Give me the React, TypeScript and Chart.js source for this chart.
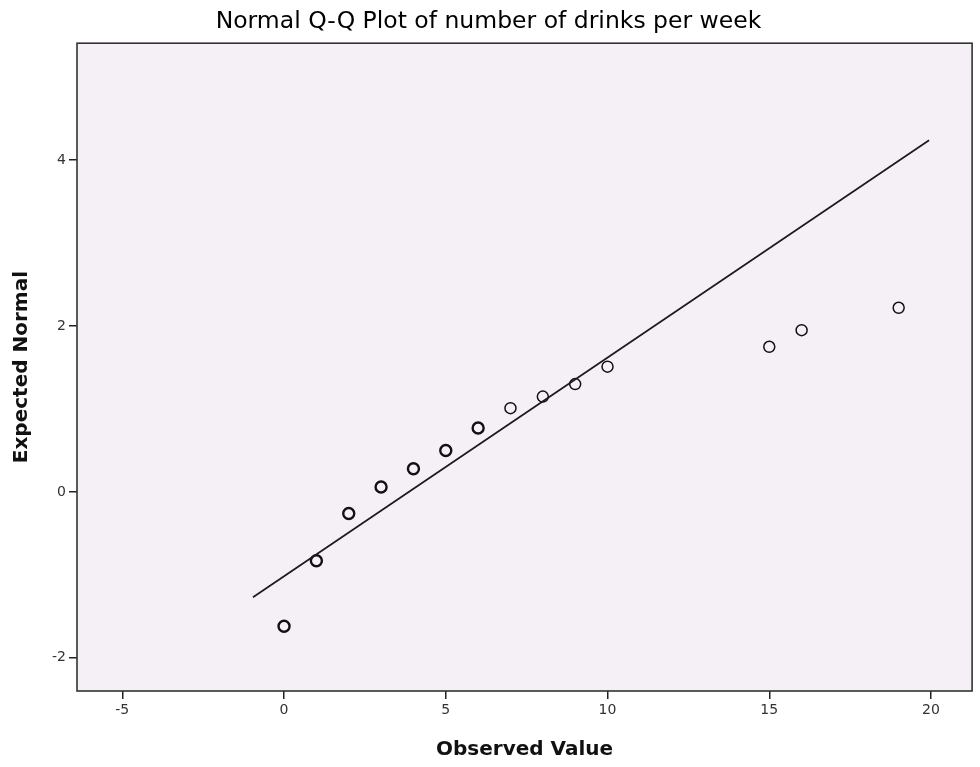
import React, { useEffect, useRef } from "react";
import { Chart, registerables } from "chart.js";

Chart.register(...registerables);

// Observed values (x) and their expected normal scores (y)
const observedValues = [0, 1, 2, 3, 4, 5, 6, 7, 8, 9, 10, 15, 16, 19];
const expectedNormal = [-1.62, -0.83, -0.26, 0.06, 0.28, 0.5, 0.77, 1.01, 1.15, 1.3, 1.51, 1.75, 1.95, 2.22];
// Reference line end points
const lineX = [-0.96, 19.94];
const lineY = [-1.27, 4.24];
// Tick labels
const xTicks = [-5, 0, 5, 10, 15, 20];
const yTicks = [-2, 0, 2, 4];
// Points that represent several overlapping observations (drawn heavier)
const repeatedUpTo = 6;

const TITLE = "Normal Q-Q Plot of number of drinks per week";
const X_TITLE = "Observed Value";
const Y_TITLE = "Expected Normal";

const framePlugin = {
  id: "frameBox",
  beforeDraw(chart: any) {
    const { ctx, chartArea } = chart;
    const { left, top, width, height } = chartArea;
    ctx.save();
    ctx.fillStyle = "#F5F0F5";
    ctx.fillRect(left, top, width, height);
    ctx.restore();
  },
  afterDraw(chart: any) {
    const { ctx, chartArea } = chart;
    const { left, top, width, height } = chartArea;
    ctx.save();
    ctx.strokeStyle = "#333333";
    ctx.lineWidth = 1.6;
    ctx.strokeRect(left, top, width, height);
    ctx.restore();
  },
};

export default function App() {
  const canvasRef = useRef<HTMLCanvasElement | null>(null);

  useEffect(() => {
    document.body.style.margin = "0";
    const canvas = canvasRef.current;
    if (!canvas) return;

    const points = observedValues.map((x, i) => ({ x, y: expectedNormal[i] }));
    const linePts = lineX.map((x, i) => ({ x, y: lineY[i] }));

    const tickFont = { family: "'DejaVu Sans', sans-serif", size: 14 };
    const axisTitleFont = { family: "'DejaVu Sans', sans-serif", size: 20, weight: "bold" as const };

    const chart = new Chart(canvas, {
      type: "scatter",
      data: {
        datasets: [
          {
            label: "Reference",
            data: linePts,
            showLine: true,
            borderColor: "#1a1a1a",
            borderWidth: 1.7,
            pointRadius: 0,
            fill: false,
          },
          {
            label: "Observed",
            data: points,
            showLine: false,
            pointStyle: "circle",
            pointRadius: 5.5,
            backgroundColor: "rgba(0,0,0,0)",
            borderColor: "#111111",
            borderWidth: (ctx: any) => (ctx.raw && ctx.raw.x <= repeatedUpTo ? 2.4 : 1.5),
          } as any,
        ],
      },
      options: {
        responsive: false,
        animation: false,
        devicePixelRatio: 1,
        layout: { padding: { top: 0, left: 0, right: 3, bottom: 0 } },
        plugins: {
          legend: { display: false },
          tooltip: { enabled: false },
          title: {
            display: true,
            text: TITLE,
            color: "#000000",
            font: { family: "'DejaVu Sans', sans-serif", size: 23.5, weight: "normal" },
            padding: { top: 8, bottom: 7 },
          },
        },
        scales: {
          x: {
            type: "linear",
            min: -6.4,
            max: 21.27,
            afterBuildTicks: (scale: any) => {
              scale.ticks = xTicks.map((v) => ({ value: v }));
            },
            afterFit: (scale: any) => {
              scale.height = 76;
            },
            ticks: { font: tickFont, color: "#333333", padding: 3, maxRotation: 0 },
            grid: { display: true, drawOnChartArea: false, drawTicks: true, tickLength: 8, color: "#222222", lineWidth: 1.5 },
            border: { display: false },
            title: { display: true, text: X_TITLE, font: axisTitleFont, color: "#111111", padding: { top: 0, bottom: 5 } },
          },
          y: {
            type: "linear",
            min: -2.4,
            max: 5.41,
            afterBuildTicks: (scale: any) => {
              scale.ticks = yTicks.map((v) => ({ value: v }));
            },
            afterFit: (scale: any) => {
              scale.width = 77;
            },
            ticks: { font: tickFont, color: "#333333", padding: 3 },
            grid: { display: true, drawOnChartArea: false, drawTicks: true, tickLength: 8, color: "#222222", lineWidth: 1.5 },
            border: { display: false },
            title: { display: true, text: Y_TITLE, font: axisTitleFont, color: "#111111", padding: { top: 10, bottom: 0 } },
          },
        },
      },
      plugins: [framePlugin],
    } as any);

    return () => {
      chart.destroy();
    };
  }, []);

  return (
    <div style={{ width: 980, height: 767 }}>
      <canvas ref={canvasRef} width={980} height={767} />
    </div>
  );
}
